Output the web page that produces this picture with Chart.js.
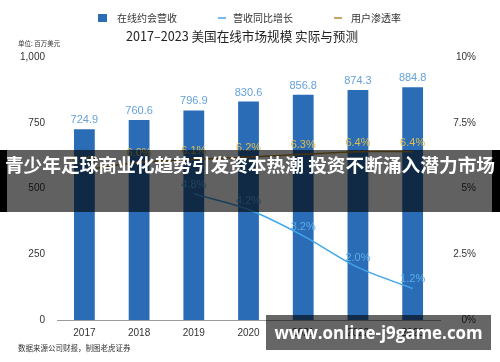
<!DOCTYPE html>
<html>
<head>
<meta charset="utf-8">
<script src="https://cdn.jsdelivr.net/npm/chart.js@4"></script>
<style>
  html, body { margin: 0; padding: 0; background: #fff; }
  #wrap { position: relative; width: 500px; height: 362px; overflow: hidden; }
  #banner {
    position: absolute; left: 0; top: 150px; width: 500px; height: 62px;
    box-sizing: border-box; background: rgba(0, 0, 0, 0.62);
    border-left: 7px solid #000; border-right: 8px solid #000;
  }
  #banner span {
    position: absolute; left: -7px; top: 0; width: 500px; line-height: 62px;
    text-align: center; color: #fff; white-space: nowrap;
    font: bold 18.7px "Noto Sans CJK SC", sans-serif;
  }
  #mark {
    position: absolute; left: 266px; top: 315px; width: 225px; height: 35px;
    background: rgba(0, 0, 0, 0.6); color: #fff; text-align: center;
    font: bold 16.9px "Open Sans", sans-serif; line-height: 35px; white-space: nowrap;
  }
</style>
</head>
<body>
<div id="wrap">
  <canvas id="chartCanvas" width="500" height="362"></canvas>
  <div id="banner"><span>青少年足球商业化趋势引发资本热潮 投资不断涌入潜力市场</span></div>
  <div id="mark">www.online-j9game.com</div>
</div>
<script>
const years = ['2017', '2018', '2019', '2020', '2021', '2022', '2023'];
const revenue = [724.9, 760.6, 796.9, 830.6, 856.8, 874.3, 884.8];
const growth = [null, null, 4.8, 4.2, 3.2, 2.0, 1.2];
const penetration = [5.7, 6.0, 6.1, 6.2, 6.3, 6.4, 6.4];
const seriesNames = ['在线约会营收', '营收同比增长', '用户渗透率'];
const chartTitle = '2017–2023 美国在线市场规模 实际与预测';
const unitText = '单位: 百万美元';
const sourceText = '数据来源公司财报，制图老虎证券';

const cjk = '"Noto Sans CJK SC", sans-serif';
const latin = '"Liberation Sans", Arial, sans-serif';

// value labels above bars and line points
const valueLabels = {
  id: 'valueLabels',
  afterDatasetsDraw(chart) {
    const ctx = chart.ctx;
    chart.data.datasets.forEach((ds, i) => {
      const meta = chart.getDatasetMeta(i);
      ctx.save();
      ctx.font = '11px ' + latin;
      ctx.fillStyle = ds.labelColor;
      ctx.textAlign = 'center';
      ctx.textBaseline = 'middle';
      meta.data.forEach((el, j) => {
        const v = ds.data[j];
        if (v == null) return;
        const text = ds.yAxisID === 'y1' ? v.toFixed(1) + '%' : v.toFixed(1);
        ctx.fillText(text, el.x, el.y - 9);
      });
      ctx.restore();
    });
  }
};

// legend row, unit note and source note
const extras = {
  id: 'extras',
  afterDraw(chart) {
    const ctx = chart.ctx;
    const ds = chart.data.datasets;
    const slots = [[98, 117], [218, 233], [334, 351]];
    ctx.save();
    ctx.font = '10px ' + cjk;
    ctx.textBaseline = 'middle';
    ctx.textAlign = 'left';
    ds.forEach((d, i) => {
      const [x, tx] = slots[i];
      if (d.type === 'bar') {
        ctx.fillStyle = d.backgroundColor;
        ctx.fillRect(x, 14, 9, 8);
      } else {
        ctx.strokeStyle = d.borderColor;
        ctx.lineWidth = 1.5;
        ctx.beginPath();
        ctx.moveTo(x, 18);
        ctx.lineTo(x + 8, 18);
        ctx.stroke();
      }
      ctx.fillStyle = '#333';
      ctx.fillText(d.label, tx, 18);
    });
    ctx.font = '6.5px ' + cjk;
    ctx.fillStyle = '#333';
    ctx.fillText(unitText, 18, 44);
    ctx.font = '7.5px ' + cjk;
    ctx.fillText(sourceText, 18, 348);
    ctx.restore();
  }
};

new Chart(document.getElementById('chartCanvas'), {
  data: {
    labels: years,
    datasets: [
      {
        type: 'bar',
        label: seriesNames[0],
        data: revenue,
        yAxisID: 'y',
        backgroundColor: '#2b6cb6',
        labelColor: '#66a2da',
        barPercentage: 0.38,
        categoryPercentage: 1,
        order: 2
      },
      {
        type: 'line',
        label: seriesNames[1],
        data: growth,
        yAxisID: 'y1',
        borderColor: '#40a6ea',
        labelColor: '#5aaee6',
        borderWidth: 1.5,
        pointRadius: 0,
        tension: 0.3,
        order: 1
      },
      {
        type: 'line',
        label: seriesNames[2],
        data: penetration,
        yAxisID: 'y1',
        borderColor: '#b38a2c',
        labelColor: '#dcbd4e',
        borderWidth: 1.5,
        pointRadius: 0,
        tension: 0.3,
        order: 0
      }
    ]
  },
  options: {
    responsive: false,
    animation: false,
    layout: { padding: { left: 8, right: 24, top: 0, bottom: 16 } },
    plugins: {
      legend: { display: false },
      tooltip: { enabled: false },
      title: {
        display: true,
        text: chartTitle,
        color: '#222',
        font: { family: cjk, size: 12.6, weight: 'normal' },
        padding: { top: 29, bottom: 12.9 }
      }
    },
    scales: {
      x: {
        grid: { display: false, drawTicks: false },
        border: { display: true, color: '#9a9a9a', width: 1 },
        ticks: { color: '#333', font: { family: latin, size: 10 }, padding: 7 }
      },
      y: {
        position: 'left',
        min: 0,
        max: 1000,
        grid: { display: false, drawTicks: false },
        border: { display: false },
        ticks: {
          stepSize: 250,
          color: '#333',
          padding: 12,
          font: { family: latin, size: 10 },
          callback: v => v.toLocaleString('en-US')
        }
      },
      y1: {
        position: 'right',
        min: 0,
        max: 10,
        grid: { display: false, drawTicks: false },
        border: { display: false },
        ticks: {
          stepSize: 2.5,
          color: '#333',
          padding: 6.6,
          crossAlign: 'far',
          font: { family: latin, size: 10 },
          callback: v => v + '%'
        }
      }
    }
  },
  plugins: [valueLabels, extras]
});
</script>
</body>
</html>
